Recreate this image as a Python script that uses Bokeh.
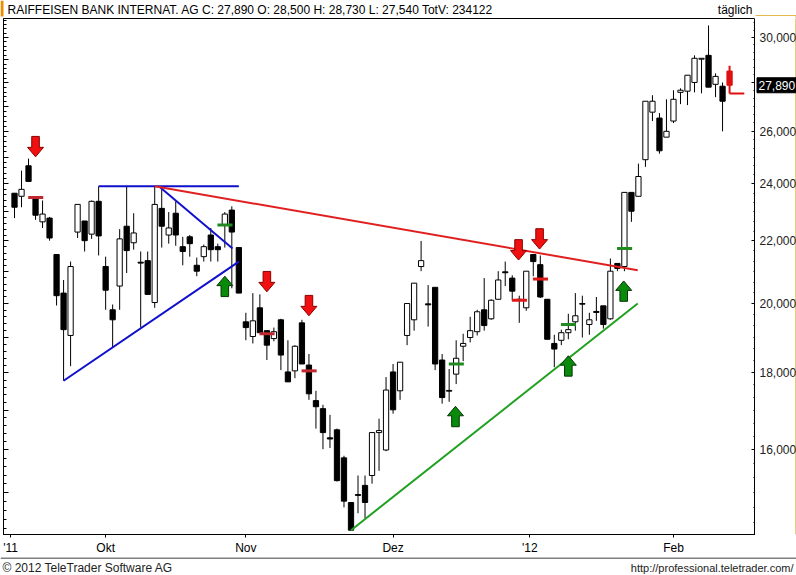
import math
from bokeh.plotting import figure
from bokeh.layouts import column, row
from bokeh.models import Range1d, LogAxis, FixedTicker, CustomJSTickFormatter
from bokeh.core.properties import value
from bokeh.embed import file_html
from bokeh.resources import INLINE

# ---------------- data (EUR, daily candles, Sep 2011 - Feb 2012) ----------------
opens = [23.66, 23.55, 24.67, 23.51, 22.65, 22.78, 21.55, 20.32, 19.05, 22.30,
         22.68, 22.23, 23.37, 21.16, 19.81, 20.54, 22.50, 21.94, 21.30, 21.35,
         20.03, 23.12, 22.20, 22.95, 21.81, 22.14, 21.20, 21.48, 22.20, 21.81,
         22.54, 23.06, 21.78, 19.45, 19.02, 19.87, 19.19, 18.96, 19.51, 18.02,
         18.05, 19.42, 18.21, 17.25, 17.04, 16.30, 16.50, 15.81, 14.77, 14.95,
         15.16, 15.39, 16.43, 16.00, 18.02, 17.51, 19.05, 19.51, 21.16, 19.99,
         20.50, 18.35, 17.52, 17.96, 18.74, 18.99, 19.16, 19.81, 19.54, 20.13,
         20.99, 20.79, 20.13, 19.87, 21.55, 21.22, 20.13, 18.82, 18.91, 19.13,
         19.45, 20.00, 19.37, 19.76, 19.93, 19.54, 21.26, 21.16, 23.69, 23.55,
         24.90, 26.77, 26.53, 25.77, 26.41, 27.59, 27.64, 28.01, 29.02, 29.19,
         27.93, 27.85]
highs = [23.66, 24.49, 24.94, 23.51, 23.40, 22.82, 21.55, 20.73, 21.32, 23.26,
         22.68, 23.40, 23.91, 21.48, 19.97, 22.40, 23.91, 22.95, 21.65, 21.65,
         23.91, 23.87, 22.99, 23.37, 22.14, 22.20, 21.45, 21.88, 22.44, 21.91,
         22.99, 23.19, 21.78, 19.72, 20.32, 20.28, 19.19, 19.28, 19.54, 18.91,
         18.77, 19.51, 18.52, 17.51, 17.14, 16.88, 16.53, 15.86, 14.77, 15.39,
         15.39, 16.43, 16.78, 17.88, 18.24, 18.29, 20.00, 20.63, 22.00, 20.57,
         20.50, 18.52, 18.10, 18.91, 19.10, 19.60, 19.81, 20.79, 20.13, 21.01,
         21.32, 20.88, 20.24, 21.01, 21.55, 21.52, 20.13, 19.07, 19.22, 19.69,
         20.32, 20.24, 19.72, 20.20, 19.93, 21.42, 21.26, 23.69, 23.69, 24.75,
         27.22, 27.47, 26.73, 27.30, 27.68, 27.76, 28.32, 29.19, 29.06, 30.55,
         28.40, 28.01]
lows = [22.78, 23.16, 24.09, 22.72, 22.44, 22.01, 19.94, 17.78, 18.18, 22.10,
        21.65, 22.07, 21.52, 19.81, 18.71, 19.81, 20.95, 21.71, 19.28, 20.28,
        19.87, 21.78, 21.91, 21.84, 21.20, 21.48, 20.85, 21.32, 21.32, 21.32,
        21.78, 20.47, 20.32, 18.91, 18.82, 19.13, 18.35, 18.88, 18.07, 17.75,
        17.85, 18.24, 17.27, 16.53, 16.02, 16.05, 15.25, 14.66, 14.16, 14.53,
        14.42, 15.20, 15.50, 15.97, 16.91, 17.27, 18.77, 19.19, 21.01, 19.31,
        18.07, 17.17, 17.22, 17.69, 18.32, 18.85, 19.05, 19.19, 19.51, 20.13,
        20.54, 20.10, 19.42, 19.78, 20.85, 20.17, 18.94, 18.15, 18.77, 18.94,
        19.19, 18.99, 19.07, 19.48, 19.25, 19.51, 21.01, 21.01, 22.65, 23.55,
        24.63, 26.41, 25.13, 25.77, 26.33, 27.10, 27.06, 27.59, 27.55, 27.81,
        27.39, 26.00]
closes = [23.16, 23.80, 24.09, 22.88, 22.92, 22.10, 20.24, 19.22, 21.16, 23.26,
          22.01, 23.37, 22.17, 20.41, 19.51, 22.07, 21.68, 22.27, 21.27, 20.28,
          23.26, 22.50, 22.44, 22.20, 21.65, 21.91, 21.01, 21.81, 21.71, 21.71,
          22.92, 22.30, 20.32, 19.28, 19.48, 19.13, 18.77, 19.16, 18.49, 17.75,
          18.74, 18.24, 17.43, 17.09, 16.43, 16.27, 15.27, 14.80, 14.16, 14.93,
          14.77, 16.43, 16.48, 17.53, 17.01, 18.29, 20.00, 20.63, 21.35, 19.96,
          18.24, 17.33, 17.50, 18.40, 18.82, 19.19, 19.75, 19.34, 20.10, 20.73,
          20.96, 20.38, 20.10, 21.01, 21.32, 20.20, 18.94, 18.66, 19.13, 19.22,
          19.63, 19.98, 19.51, 19.73, 19.37, 21.01, 21.10, 23.69, 23.02, 24.27,
          27.22, 27.22, 25.24, 26.00, 27.30, 27.68, 28.32, 29.06, 29.06, 27.81,
          28.27, 27.22]

# latest (current) day, drawn in red
last_open, last_high, last_low, last_close = 28.50, 28.73, 27.54, 27.89

# trend lines (candle index, price)
blue_top_x, blue_top_y = [12, 32], [23.91, 23.91]
blue_down_x, blue_down_y = [20.8, 31.1], [23.87, 21.75]
blue_up_x, blue_up_y = [7, 32], [17.78, 21.32]
red_line_x, red_line_y = [20, 88.9], [23.91, 21.04]
green_line_x, green_line_y = [48, 88.9], [14.16, 20.00]

# signal arrows (candle index, price at arrow tip)
sell_x = [3.0, 36.0, 42.0, 71.9, 74.9]
sell_y = [25.01, 20.36, 19.63, 21.37, 21.73]
buy_x = [30.0, 62.9, 79.0, 86.9]
buy_y = [20.85, 17.10, 18.47, 20.70]

# short level markers (start index, price)
red_mark_x = [2, 35, 41]
red_mark_y = [23.51, 19.10, 18.05]
red2_mark_x = [71, 74]
red2_mark_y = [20.10, 20.76]
green_mark_x = [29, 62, 78, 86]
green_mark_y = [22.54, 18.24, 19.37, 21.75]

# axis ticks / labels
price_ticks = [16, 18, 20, 22, 24, 26, 28, 30]
price_labels = ["16,000", "18,000", "20,000", "22,000", "24,000", "26,000", "", "30,000"]
last_label = "27,890"
date_ticks = [-0.57, 13, 33, 54, 73.5, 94]
date_labels = ["'11", "Okt", "Nov", "Dez", "'12", "Feb"]

title_text = "RAIFFEISEN BANK INTERNAT. AG C: 27,890 O: 28,500 H: 28,730 L: 27,540 TotV: 234122"
period_text = "täglich"
copyright_text = "© 2012 TeleTrader Software AG"
url_text = "http://professional.teletrader.com/"

# ---------------- geometry ----------------
X_LO, X_HI = -1.57, 105.7
Y_LO, Y_HI = 14.067, 30.876
FRAME_W, FRAME_H = 752, 519
FONT = "Liberation Sans"
GOLD = "#e3b84f"

def strip(w, h):
    f = figure(width=w, height=h, output_backend="svg", toolbar_location=None,
               x_range=Range1d(0, w), y_range=Range1d(0, h),
               x_axis_type=None, y_axis_type=None,
               min_border_left=0, min_border_right=0, min_border_top=0, min_border_bottom=0)
    f.outline_line_color = None
    f.grid.visible = False
    f.background_fill_color = "white"
    f.border_fill_color = "white"
    return f

# header strip
head = strip(796, 18)
head.quad(left=[0], right=[3], bottom=[2], top=[18], fill_color="#f08c00", line_color=None)
head.segment(x0=[755], y0=[3], x1=[796], y1=[3], line_color=GOLD, line_width=1)
head.segment(x0=[795.5], y0=[0], x1=[795.5], y1=[3], line_color=GOLD, line_width=1)
head.text(x=[7], y=[9], text=[title_text], text_font=value(FONT), text_font_size="12px",
          text_align="left", text_baseline="middle", text_color="black")
head.text(x=[752], y=[9], text=[period_text], text_font=value(FONT), text_font_size="12px",
          text_align="right", text_baseline="middle", text_color="black")

# ---------------- main chart ----------------
yr = Range1d(Y_LO, Y_HI)
p = figure(width=755, height=539, output_backend="svg", toolbar_location=None,
           x_range=Range1d(X_LO, X_HI), y_range=yr,
           y_axis_type="log", y_axis_location="right",
           min_border_left=3, min_border_right=0, min_border_top=0, min_border_bottom=20)
p.background_fill_color = "white"
p.border_fill_color = "white"
p.outline_line_color = "black"
p.grid.visible = False

blank = CustomJSTickFormatter(code="return '';")

ra = p.yaxis[0]
ra.ticker = FixedTicker(ticks=price_ticks, minor_ticks=[14 + i * (2 / 6) for i in range(0, 52)])
ra.formatter = blank
ra.major_label_text_color = None
ra.major_label_standoff = 0
ra.major_tick_in = 4
ra.major_tick_out = 0
ra.minor_tick_in = 2
ra.minor_tick_out = 0
ra.axis_line_color = GOLD

la = LogAxis(ticker=FixedTicker(ticks=list(range(14, 32)),
                                minor_ticks=[14 + i * 0.2 for i in range(0, 90)]),
             formatter=CustomJSTickFormatter(code="return '';"),
             major_label_text_color=None, major_label_standoff=0,
             major_tick_in=5, major_tick_out=0, minor_tick_in=3, minor_tick_out=0,
             axis_line_color="black")
p.add_layout(la, "left")

xa = p.xaxis[0]
xa.ticker = FixedTicker(ticks=date_ticks)
xa.major_label_overrides = {t: l for t, l in zip(date_ticks, date_labels)}
xa.major_label_text_font = FONT
xa.major_label_text_font_size = "12px"
xa.major_label_text_color = "black"
xa.major_label_standoff = 3
xa.major_tick_in = 0
xa.major_tick_out = 3
xa.minor_tick_line_color = None
xa.axis_line_color = "black"

# candles
idx = list(range(len(opens)))
fills = ["black" if c < o else "white" for o, c in zip(opens, closes)]
tops = [max(a, b) for a, b in zip(opens, closes)]
bots = [min(a, b) for a, b in zip(opens, closes)]
p.segment(x0=idx, y0=lows, x1=idx, y1=highs, line_color="black", line_width=1)
p.vbar(x=idx, width=0.75, top=tops, bottom=bots, fill_color=fills, line_color="black", line_width=1)

# latest day in red
lx = len(opens)
p.segment(x0=[lx], y0=[last_low], x1=[lx], y1=[last_high], line_color="#e01010", line_width=2)
p.vbar(x=[lx], width=0.75, top=[last_open], bottom=[last_close],
       fill_color="#e01010", line_color="#e01010")
p.segment(x0=[lx], y0=[last_low], x1=[lx + 2.1], y1=[last_low], line_color="#e01010", line_width=2)

# trend lines
p.line(blue_top_x, blue_top_y, line_color="#1010cc", line_width=2)
p.line(blue_down_x, blue_down_y, line_color="#1010cc", line_width=2)
p.line(blue_up_x, blue_up_y, line_color="#1010cc", line_width=2)
p.line(red_line_x, red_line_y, line_color="#e02020", line_width=2)
p.line(green_line_x, green_line_y, line_color="#20a020", line_width=2)

def marks(xs, ys, color, width):
    p.segment(x0=[x - 0.05 for x in xs], y0=ys, x1=[x + 2.1 for x in xs], y1=ys,
              line_color=color, line_width=width)

marks(red_mark_x, red_mark_y, "#c0282f", 3)
marks(red2_mark_x, red2_mark_y, "#e01818", 3)
marks(green_mark_x, green_mark_y, "#208a20", 3)

# arrows
K = FRAME_H / math.log(Y_HI / Y_LO)   # px per ln(price)
PXX = FRAME_W / (X_HI - X_LO)         # px per candle
SHAPE = [(0, 0), (-8, 9.5), (-3.8, 9.5), (-3.8, 20.5), (3.8, 20.5), (3.8, 9.5), (8, 9.5)]

def arrows(xs, ys, down):
    px, py = [], []
    sgn = 1 if down else -1
    for xc, yt in zip(xs, ys):
        px.append([xc + dx / PXX for dx, _ in SHAPE])
        py.append([yt * math.exp(sgn * h / K) for _, h in SHAPE])
    return px, py

sx_, sy_ = arrows(sell_x, sell_y, True)
p.patches(sx_, sy_, fill_color="#f01010", line_color="#8a0000", line_width=1)
bx_, by_ = arrows(buy_x, buy_y, False)
p.patches(bx_, by_, fill_color="#0a8a0a", line_color="#053505", line_width=1)

# ---------------- price label column ----------------
pc = figure(width=41, height=539, output_backend="svg", toolbar_location=None,
            x_range=Range1d(0, 41), y_range=yr, y_axis_type="log",
            x_axis_location=None, y_axis_location=None,
            min_border_left=0, min_border_right=0, min_border_top=0, min_border_bottom=20)
pc.outline_line_color = None
pc.grid.visible = False
pc.background_fill_color = "white"
pc.border_fill_color = "white"
pc.segment(x0=[40.5, 40.5], y0=[Y_LO, Y_LO], x1=[40.5, 40.5], y1=[Y_HI, Y_HI],
           line_color=GOLD, line_width=1)
sel = [i for i, l in enumerate(price_labels) if l]
pc.text(x=[4] * len(sel), y=[price_ticks[i] for i in sel], text=[price_labels[i] for i in sel],
        text_font=value(FONT), text_font_size="12px", text_color="#222222",
        text_align="left", text_baseline="middle")
pc.rect(x=[21], y=[last_close], width=[39], height=[15], height_units="screen",
        fill_color="black", line_color="black")
pc.text(x=[3], y=[last_close], text=[last_label], text_font=value(FONT), text_font_size="12px",
        text_color="white", text_align="left", text_baseline="middle")

# ---------------- footer strip ----------------
foot = strip(796, 18)
foot.segment(x0=[0], y0=[17.5], x1=[796], y1=[17.5], line_color="black", line_width=1)
foot.text(x=[2], y=[8], text=[copyright_text], text_font=value(FONT), text_font_size="12px",
          text_align="left", text_baseline="middle", text_color="#222222")
foot.text(x=[793], y=[8], text=[url_text], text_font=value(FONT), text_font_size="11px",
          text_align="right", text_baseline="middle", text_color="#222222")

layout = column(head, row(p, pc), foot)
open("out.html", "w").write(file_html(layout, INLINE))
